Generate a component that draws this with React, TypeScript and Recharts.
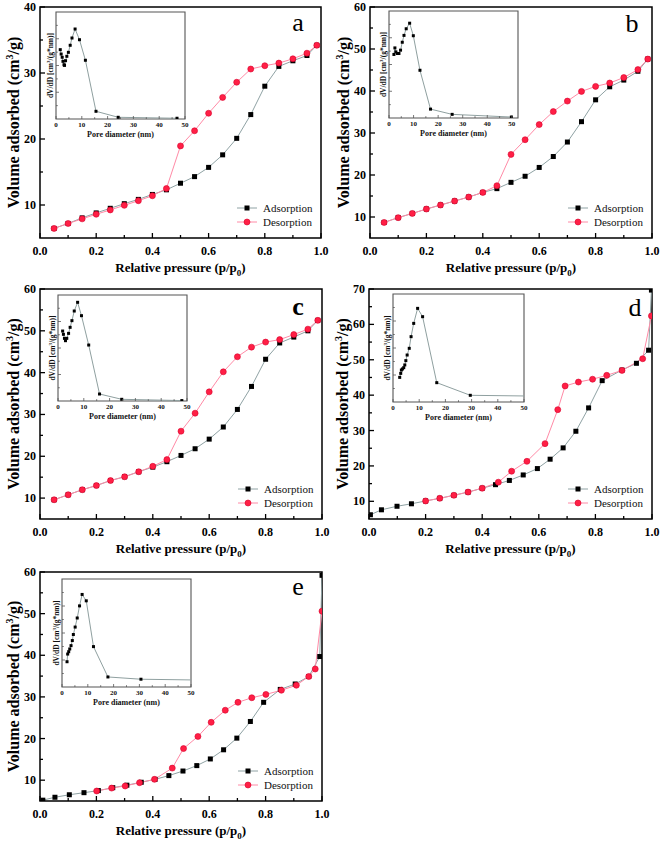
import React from 'react';
import { LineChart, Line, XAxis, YAxis, ReferenceArea, Legend, Label } from 'recharts';

const FONT = '"Liberation Serif", "Times New Roman", serif';
const ADS_LINE = '#8fa2a4';
const DES_LINE = '#ff8aa6';
const DES_FILL = '#ff1f45';
const DES_STROKE = '#d9002b';
const INSET_LINE = '#8fa0a0';

// ---- main isotherm data: relative pressure p/p0 vs volume adsorbed (cm3/g)
const adsA = [
  { p: 0.05, v: 6.45 }, { p: 0.1, v: 7.2 }, { p: 0.15, v: 8.05 }, { p: 0.2, v: 8.8 }, { p: 0.25, v: 9.5 },
  { p: 0.3, v: 10.2 }, { p: 0.35, v: 10.85 }, { p: 0.4, v: 11.6 }, { p: 0.45, v: 12.3 }, { p: 0.5, v: 13.3 },
  { p: 0.55, v: 14.3 }, { p: 0.6, v: 15.7 }, { p: 0.65, v: 17.6 }, { p: 0.7, v: 20.1 }, { p: 0.75, v: 23.7 },
  { p: 0.8, v: 28.0 }, { p: 0.85, v: 31.0 }, { p: 0.9, v: 31.85 }, { p: 0.95, v: 32.65 }, { p: 0.985, v: 34.2 },
];
const desA = [
  { p: 0.985, v: 34.2 }, { p: 0.95, v: 33.0 }, { p: 0.9, v: 32.15 }, { p: 0.85, v: 31.5 }, { p: 0.8, v: 31.1 },
  { p: 0.75, v: 30.6 }, { p: 0.7, v: 28.6 }, { p: 0.65, v: 26.3 }, { p: 0.6, v: 23.9 }, { p: 0.55, v: 21.25 },
  { p: 0.5, v: 18.95 }, { p: 0.45, v: 12.5 }, { p: 0.4, v: 11.4 }, { p: 0.35, v: 10.65 }, { p: 0.3, v: 9.95 },
  { p: 0.25, v: 9.25 }, { p: 0.2, v: 8.6 }, { p: 0.15, v: 7.9 }, { p: 0.1, v: 7.2 }, { p: 0.05, v: 6.45 },
];
const adsB = [
  { p: 0.05, v: 8.7 }, { p: 0.1, v: 9.85 }, { p: 0.15, v: 10.85 }, { p: 0.2, v: 11.9 }, { p: 0.25, v: 12.85 },
  { p: 0.3, v: 13.8 }, { p: 0.35, v: 14.75 }, { p: 0.4, v: 15.85 }, { p: 0.45, v: 16.75 }, { p: 0.5, v: 18.25 },
  { p: 0.55, v: 19.7 }, { p: 0.6, v: 21.8 }, { p: 0.65, v: 24.4 }, { p: 0.7, v: 27.85 }, { p: 0.75, v: 32.7 },
  { p: 0.8, v: 37.9 }, { p: 0.85, v: 41.0 }, { p: 0.9, v: 42.6 }, { p: 0.95, v: 44.7 }, { p: 0.985, v: 47.6 },
];
const desB = [
  { p: 0.985, v: 47.6 }, { p: 0.95, v: 45.1 }, { p: 0.9, v: 43.2 }, { p: 0.85, v: 41.9 }, { p: 0.8, v: 41.1 },
  { p: 0.75, v: 39.9 }, { p: 0.7, v: 37.6 }, { p: 0.65, v: 35.1 }, { p: 0.6, v: 32.0 }, { p: 0.55, v: 28.4 },
  { p: 0.5, v: 24.9 }, { p: 0.45, v: 17.45 }, { p: 0.4, v: 15.85 }, { p: 0.35, v: 14.75 }, { p: 0.3, v: 13.8 },
  { p: 0.25, v: 12.85 }, { p: 0.2, v: 11.9 }, { p: 0.15, v: 10.85 }, { p: 0.1, v: 9.85 }, { p: 0.05, v: 8.7 },
];
const adsC = [
  { p: 0.05, v: 9.6 }, { p: 0.1, v: 10.8 }, { p: 0.15, v: 12.0 }, { p: 0.2, v: 13.0 }, { p: 0.25, v: 14.2 },
  { p: 0.3, v: 15.1 }, { p: 0.35, v: 16.3 }, { p: 0.4, v: 17.4 }, { p: 0.45, v: 18.7 }, { p: 0.5, v: 20.2 },
  { p: 0.55, v: 21.8 }, { p: 0.6, v: 24.1 }, { p: 0.65, v: 27.0 }, { p: 0.7, v: 31.2 }, { p: 0.75, v: 36.7 },
  { p: 0.8, v: 43.2 }, { p: 0.85, v: 47.1 }, { p: 0.9, v: 48.5 }, { p: 0.95, v: 50.0 }, { p: 0.985, v: 52.5 },
];
const desC = [
  { p: 0.985, v: 52.5 }, { p: 0.95, v: 50.4 }, { p: 0.9, v: 49.1 }, { p: 0.85, v: 47.9 }, { p: 0.8, v: 47.3 },
  { p: 0.75, v: 46.1 }, { p: 0.7, v: 43.8 }, { p: 0.65, v: 40.2 }, { p: 0.6, v: 35.4 }, { p: 0.55, v: 30.3 },
  { p: 0.5, v: 26.0 }, { p: 0.45, v: 19.2 }, { p: 0.4, v: 17.6 }, { p: 0.35, v: 16.3 }, { p: 0.3, v: 15.1 },
  { p: 0.25, v: 14.2 }, { p: 0.2, v: 13.0 }, { p: 0.15, v: 12.0 }, { p: 0.1, v: 10.8 }, { p: 0.05, v: 9.6 },
];
const adsD = [
  { p: 0.005, v: 6.2 }, { p: 0.044, v: 7.6 }, { p: 0.099, v: 8.6 }, { p: 0.15, v: 9.3 }, { p: 0.2, v: 10.1 },
  { p: 0.25, v: 10.85 }, { p: 0.3, v: 11.7 }, { p: 0.35, v: 12.6 }, { p: 0.4, v: 13.7 }, { p: 0.447, v: 14.7 },
  { p: 0.496, v: 15.9 }, { p: 0.545, v: 17.45 }, { p: 0.595, v: 19.25 }, { p: 0.64, v: 21.9 }, { p: 0.686, v: 25.1 },
  { p: 0.731, v: 29.8 }, { p: 0.776, v: 36.4 }, { p: 0.824, v: 44.1 }, { p: 0.894, v: 47.1 }, { p: 0.945, v: 49.0 },
  { p: 0.988, v: 52.7 }, { p: 0.998, v: 69.7 },
];
const desD = [
  { p: 0.998, v: 62.4 }, { p: 0.967, v: 50.3 }, { p: 0.894, v: 47.0 }, { p: 0.84, v: 45.6 }, { p: 0.79, v: 44.5 },
  { p: 0.74, v: 43.7 }, { p: 0.693, v: 42.6 }, { p: 0.667, v: 35.9 }, { p: 0.622, v: 26.3 }, { p: 0.558, v: 21.3 },
  { p: 0.504, v: 18.5 }, { p: 0.457, v: 15.4 }, { p: 0.4, v: 13.7 }, { p: 0.35, v: 12.6 }, { p: 0.3, v: 11.7 },
  { p: 0.25, v: 10.85 }, { p: 0.2, v: 10.1 },
];
const adsE = [
  { p: 0.01, v: 5.2 }, { p: 0.053, v: 5.9 }, { p: 0.104, v: 6.5 }, { p: 0.156, v: 7.0 }, { p: 0.207, v: 7.5 },
  { p: 0.258, v: 8.2 }, { p: 0.308, v: 8.8 }, { p: 0.359, v: 9.5 }, { p: 0.408, v: 10.2 }, { p: 0.457, v: 11.1 },
  { p: 0.507, v: 12.2 }, { p: 0.556, v: 13.5 }, { p: 0.604, v: 15.1 }, { p: 0.651, v: 17.3 }, { p: 0.698, v: 20.1 },
  { p: 0.746, v: 24.1 }, { p: 0.793, v: 28.7 }, { p: 0.852, v: 31.8 }, { p: 0.905, v: 33.1 }, { p: 0.953, v: 34.9 },
  { p: 0.992, v: 39.7 }, { p: 1.0, v: 59.2 },
];
const desE = [
  { p: 1.0, v: 50.6 }, { p: 0.976, v: 36.7 }, { p: 0.953, v: 34.9 }, { p: 0.909, v: 32.8 }, { p: 0.856, v: 31.6 },
  { p: 0.801, v: 30.6 }, { p: 0.751, v: 29.8 }, { p: 0.702, v: 28.7 }, { p: 0.657, v: 26.8 }, { p: 0.607, v: 23.9 },
  { p: 0.56, v: 20.5 }, { p: 0.509, v: 17.6 }, { p: 0.469, v: 12.9 }, { p: 0.406, v: 10.2 }, { p: 0.353, v: 9.4 },
  { p: 0.302, v: 8.6 }, { p: 0.254, v: 8.1 }, { p: 0.201, v: 7.4 },
];

// ---- inset pore size distributions: pore diameter (nm) vs dV/dD (relative units, 0-100)
const psdA = [
  { d: 1.65, v: 64.8 }, { d: 2.0, v: 60.7 }, { d: 2.4, v: 57.7 }, { d: 2.7, v: 53.9 }, { d: 3.1, v: 50.7 },
  { d: 3.3, v: 50.1 }, { d: 3.7, v: 54.5 }, { d: 4.2, v: 58.6 }, { d: 4.8, v: 62.3 }, { d: 5.5, v: 68.9 },
  { d: 6.2, v: 75.7 }, { d: 7.4, v: 84.1 }, { d: 9.1, v: 74.1 }, { d: 11.4, v: 54.9 }, { d: 15.5, v: 7.2 },
  { d: 24.1, v: 1.6 }, { d: 46.9, v: 0.7 },
];
const psdB = [
  { d: 2.0, v: 59.4 }, { d: 2.4, v: 65.5 }, { d: 2.8, v: 61.8 }, { d: 3.4, v: 60.3 }, { d: 4.05, v: 60.3 },
  { d: 4.7, v: 63.4 }, { d: 5.4, v: 70.8 }, { d: 6.1, v: 77.2 }, { d: 7.0, v: 83.4 }, { d: 8.4, v: 88.6 },
  { d: 9.9, v: 76.9 }, { d: 12.6, v: 44.6 }, { d: 16.9, v: 8.3 }, { d: 25.7, v: 3.4 }, { d: 49.8, v: 0.9 },
];
const psdC = [
  { d: 1.8, v: 66.0 }, { d: 2.1, v: 62.9 }, { d: 2.5, v: 59.1 }, { d: 2.9, v: 56.9 }, { d: 3.4, v: 59.1 },
  { d: 4.1, v: 63.8 }, { d: 4.7, v: 69.5 }, { d: 5.4, v: 75.8 }, { d: 6.3, v: 84.9 }, { d: 7.6, v: 93.1 },
  { d: 9.1, v: 80.5 }, { d: 11.9, v: 52.8 }, { d: 16.1, v: 6.6 }, { d: 24.7, v: 1.6 }, { d: 48.0, v: 0.4 },
];
const psdD = [
  { d: 2.56, v: 22.8 }, { d: 2.95, v: 26.5 }, { d: 3.2, v: 29.6 }, { d: 3.6, v: 30.6 }, { d: 4.1, v: 31.8 },
  { d: 4.5, v: 34.3 }, { d: 4.9, v: 38.3 }, { d: 5.4, v: 43.5 }, { d: 6.2, v: 49.7 }, { d: 6.9, v: 60.5 },
  { d: 7.9, v: 72.8 }, { d: 9.4, v: 86.7 }, { d: 11.3, v: 79.0 }, { d: 16.7, v: 17.9 }, { d: 29.5, v: 6.2 },
  { d: 60, v: 5.3 },
];
const psdE = [
  { d: 1.95, v: 23.4 }, { d: 2.2, v: 30.5 }, { d: 2.6, v: 32.7 }, { d: 3.0, v: 35.2 }, { d: 3.5, v: 38.3 },
  { d: 4.0, v: 43.0 }, { d: 4.4, v: 48.6 }, { d: 5.1, v: 55.5 }, { d: 5.9, v: 63.9 }, { d: 6.8, v: 75.1 },
  { d: 7.8, v: 85.7 }, { d: 9.4, v: 79.8 }, { d: 12.2, v: 37.4 }, { d: 17.8, v: 9.3 }, { d: 30.6, v: 7.2 },
  { d: 60, v: 6.2 },
];

// ---- ticks
const xTicks = [0, 0.1, 0.2, 0.3, 0.4, 0.5, 0.6, 0.7, 0.8, 0.9, 1.0];
const yTicks40 = [10, 15, 20, 25, 30, 35, 40];
const yTicks60 = [10, 15, 20, 25, 30, 35, 40, 45, 50, 55, 60];
const yTicks70 = [10, 15, 20, 25, 30, 35, 40, 45, 50, 55, 60, 65, 70];
const insetXTicks = [0, 5, 10, 15, 20, 25, 30, 35, 40, 45, 50];
const insetYTicks = [12.5, 25, 37.5, 50, 62.5, 75, 87.5];

const MainXTick = (props: any) => {
  const { x, y, payload } = props;
  const v = payload.value as number;
  const major = Math.round(v * 10) % 2 === 0;
  return (
    <g>
      <line x1={x} y1={y} x2={x} y2={y - (major ? 5 : 3)} stroke="#000" strokeWidth={1.3} />
      {major && (
        <text x={x} y={y + 17} textAnchor="middle" fontFamily={FONT} fontWeight="bold" fontSize={12} fill="#000">
          {v.toFixed(1)}
        </text>
      )}
    </g>
  );
};

const MainYTick = (props: any) => {
  const { x, y, payload } = props;
  const v = payload.value as number;
  const major = v % 10 === 0;
  return (
    <g>
      <line x1={x} y1={y} x2={x + (major ? 5 : 3)} y2={y} stroke="#000" strokeWidth={1.3} />
      {major && (
        <text x={x - 4} y={y + 4} textAnchor="end" fontFamily={FONT} fontWeight="bold" fontSize={12} fill="#000">
          {v}
        </text>
      )}
    </g>
  );
};

const InsetXTick = (props: any) => {
  const { x, y, payload } = props;
  const v = payload.value as number;
  const major = v % 10 === 0;
  return (
    <g>
      <line x1={x} y1={y} x2={x} y2={y - (major ? 3 : 1.8)} stroke="#555" strokeWidth={0.8} />
      {major && (
        <text x={x} y={y + 8} textAnchor="middle" fontFamily={FONT} fontWeight="bold" fontSize={7} fill="#111">
          {v}
        </text>
      )}
    </g>
  );
};

const InsetYTick = (props: any) => {
  const { x, y, payload } = props;
  const v = payload.value as number;
  const major = v % 25 === 0;
  return <line x1={x} y1={y} x2={x + (major ? 3 : 1.8)} y2={y} stroke="#555" strokeWidth={0.8} />;
};

const squareDot = (size: number) => (props: any) => {
  const { cx, cy, index } = props;
  if (cx == null || cy == null) return <g key={`s-${index}`} />;
  return <rect key={`s-${index}`} x={cx - size / 2} y={cy - size / 2} width={size} height={size} fill="#000" />;
};

const circleDot = (props: any) => {
  const { cx, cy, index } = props;
  if (cx == null || cy == null) return <g key={`c-${index}`} />;
  return <circle key={`c-${index}`} cx={cx} cy={cy} r={3} fill={DES_FILL} stroke={DES_STROKE} strokeWidth={0.6} />;
};

const legendContent = () => (
  <svg width={90} height={30} style={{ display: 'block', overflow: 'visible' }}>
    <line x1={2} y1={8} x2={22} y2={8} stroke={ADS_LINE} strokeWidth={1} />
    <rect x={9.5} y={5.5} width={5} height={5} fill="#000" />
    <text x={28} y={11.8} fontFamily={FONT} fontSize={11} fill="#111">Adsorption</text>
    <line x1={2} y1={22} x2={22} y2={22} stroke={DES_LINE} strokeWidth={1} />
    <circle cx={12} cy={22} r={3} fill={DES_FILL} stroke={DES_STROKE} strokeWidth={0.6} />
    <text x={28} y={25.8} fontFamily={FONT} fontSize={11} fill="#111">Desorption</text>
  </svg>
);

type PanelProps = {
  plotLeft: number; plotTop: number; plotW: number; plotH: number;
  yDomain: [number, number]; yTicks: number[];
  ads: { p: number; v: number }[]; des: { p: number; v: number }[];
};

function Panel({ plotLeft, plotTop, plotW, plotH, yDomain, yTicks, ads, des }: PanelProps) {
  const ml = 40, mt = 7, mr = 8, xh = 45;
  const W = plotW + ml + mr;
  const H = plotH + mt + xh;
  const xTitle = () => (
    <text x={ml + plotW / 2} y={mt + plotH + 34} textAnchor="middle" fontFamily={FONT} fontWeight="bold" fontSize={13} fill="#000">
      Relative pressure (p/p<tspan dy={4} fontSize={9}>0</tspan><tspan dy={-4}>)</tspan>
    </text>
  );
  const yTitle = () => {
    const tx = ml - 21.5;
    const ty = mt + plotH / 2;
    return (
      <text x={tx} y={ty} transform={`rotate(-90 ${tx} ${ty})`} textAnchor="middle" fontFamily={FONT} fontWeight="bold" fontSize={16} fill="#000">
        Volume adsorbed (cm<tspan dy={-6} fontSize={10}>3</tspan><tspan dy={6}>/g)</tspan>
      </text>
    );
  };
  return (
    <div style={{ position: 'absolute', left: plotLeft - ml, top: plotTop - mt, width: W, height: H }}>
      <LineChart width={W} height={H} margin={{ top: mt, right: mr, left: 0, bottom: 0 }}>
        <XAxis
          xAxisId={0}
          type="number"
          dataKey="p"
          domain={[0, 1]}
          ticks={xTicks}
          interval={0}
          tickSize={0}
          tickMargin={0}
          tickLine={false}
          axisLine={false}
          tick={<MainXTick />}
          height={xh}
          allowDataOverflow
        >
          <Label content={xTitle} />
        </XAxis>
        <YAxis
          yAxisId={0}
          type="number"
          domain={yDomain}
          ticks={yTicks}
          interval={0}
          tickSize={0}
          tickMargin={0}
          tickLine={false}
          axisLine={false}
          tick={<MainYTick />}
          width={ml}
          allowDataOverflow
        >
          <Label content={yTitle} />
        </YAxis>
        <ReferenceArea x1={0} x2={1} y1={yDomain[0]} y2={yDomain[1]} stroke="#000" strokeWidth={1.5} fill="none" fillOpacity={0} ifOverflow="visible" />
        <Line data={ads} dataKey="v" type="linear" stroke={ADS_LINE} strokeWidth={1} dot={squareDot(5)} activeDot={false} isAnimationActive={false} />
        <Line data={des} dataKey="v" type="linear" stroke={DES_LINE} strokeWidth={1} dot={circleDot} activeDot={false} isAnimationActive={false} />
        <Legend
          layout="vertical"
          align="center"
          verticalAlign="middle"
          content={legendContent}
          wrapperStyle={{ left: ml + plotW - 86, top: mt + plotH - 38, width: 90, height: 30 }}
        />
      </LineChart>
    </div>
  );
}

type InsetProps = { boxLeft: number; boxTop: number; boxW: number; boxH: number; xMax: number; data: { d: number; v: number }[] };

function Inset({ boxLeft, boxTop, boxW, boxH, xMax, data }: InsetProps) {
  const ml = 14, mt = 4, mr = 4, xh = 26;
  const W = boxW + ml + mr;
  const H = boxH + mt + xh;
  const xTitle = () => (
    <text x={ml + boxW / 2} y={mt + boxH + 18} textAnchor="middle" fontFamily={FONT} fontWeight="bold" fontSize={8} fill="#111">
      Pore diameter (nm)
    </text>
  );
  const yTitle = () => {
    const tx = ml - 3;
    const ty = mt + boxH / 2;
    return (
      <text x={tx} y={ty} transform={`rotate(-90 ${tx} ${ty})`} textAnchor="middle" fontFamily={FONT} fontWeight="bold" fontSize={7.5} fill="#111">
        dV/dD [cm<tspan dy={-3} fontSize={5}>3</tspan><tspan dy={3}>/(g*nm)]</tspan>
      </text>
    );
  };
  return (
    <div style={{ position: 'absolute', left: boxLeft - ml, top: boxTop - mt, width: W, height: H }}>
      <LineChart width={W} height={H} margin={{ top: mt, right: mr, left: 0, bottom: 0 }}>
        <XAxis
          type="number"
          dataKey="d"
          domain={[0, xMax]}
          ticks={insetXTicks}
          interval={0}
          tickSize={0}
          tickMargin={0}
          tickLine={false}
          axisLine={false}
          tick={<InsetXTick />}
          height={xh}
          allowDataOverflow
        >
          <Label content={xTitle} />
        </XAxis>
        <YAxis
          type="number"
          domain={[0, 100]}
          ticks={insetYTicks}
          interval={0}
          tickSize={0}
          tickMargin={0}
          tickLine={false}
          axisLine={false}
          tick={<InsetYTick />}
          width={ml}
          allowDataOverflow
        >
          <Label content={yTitle} />
        </YAxis>
        <ReferenceArea x1={0} x2={xMax} y1={0} y2={100} stroke="#555" strokeWidth={1.1} fill="none" fillOpacity={0} ifOverflow="visible" />
        <Line data={data} dataKey="v" type="linear" stroke={INSET_LINE} strokeWidth={1} dot={squareDot(3)} activeDot={false} isAnimationActive={false} />
      </LineChart>
    </div>
  );
}

const letterStyle = { fontFamily: FONT, fontSize: 26, fill: '#000' } as const;

export default function App() {
  return (
    <div style={{ position: 'absolute', left: 0, top: 0, width: 661, height: 845, background: '#fff' }}>
      <Panel plotLeft={40} plotTop={7} plotW={281} plotH={231} yDomain={[5, 40]} yTicks={yTicks40} ads={adsA} des={desA} />
      <Panel plotLeft={370} plotTop={7} plotW={282} plotH={231} yDomain={[5, 60]} yTicks={yTicks60} ads={adsB} des={desB} />
      <Panel plotLeft={40} plotTop={289} plotW={282} plotH={230} yDomain={[5, 60]} yTicks={yTicks60} ads={adsC} des={desC} />
      <Panel plotLeft={369} plotTop={289} plotW={283} plotH={230} yDomain={[5, 70]} yTicks={yTicks70} ads={adsD} des={desD} />
      <Panel plotLeft={40} plotTop={572} plotW={282} plotH={229} yDomain={[5, 60]} yTicks={yTicks60} ads={adsE} des={desE} />

      <Inset boxLeft={56} boxTop={12} boxW={129} boxH={107} xMax={50} data={psdA} />
      <Inset boxLeft={389} boxTop={11} boxW={129} boxH={107} xMax={52.5} data={psdB} />
      <Inset boxLeft={58} boxTop={295} boxW={129} boxH={106} xMax={50} data={psdC} />
      <Inset boxLeft={393} boxTop={294} boxW={131} boxH={108} xMax={50} data={psdD} />
      <Inset boxLeft={62} boxTop={579} boxW={129} boxH={108} xMax={50} data={psdE} />

      <svg width={661} height={845} style={{ position: 'absolute', left: 0, top: 0, pointerEvents: 'none' }}>
        <text x={298} y={31} textAnchor="middle" {...letterStyle}>a</text>
        <text x={632} y={31.5} textAnchor="middle" {...letterStyle}>b</text>
        <text x={298} y={315} textAnchor="middle" {...letterStyle} fontWeight="bold">c</text>
        <text x={635} y={316} textAnchor="middle" {...letterStyle}>d</text>
        <text x={298} y={595} textAnchor="middle" {...letterStyle}>e</text>
      </svg>
    </div>
  );
}
